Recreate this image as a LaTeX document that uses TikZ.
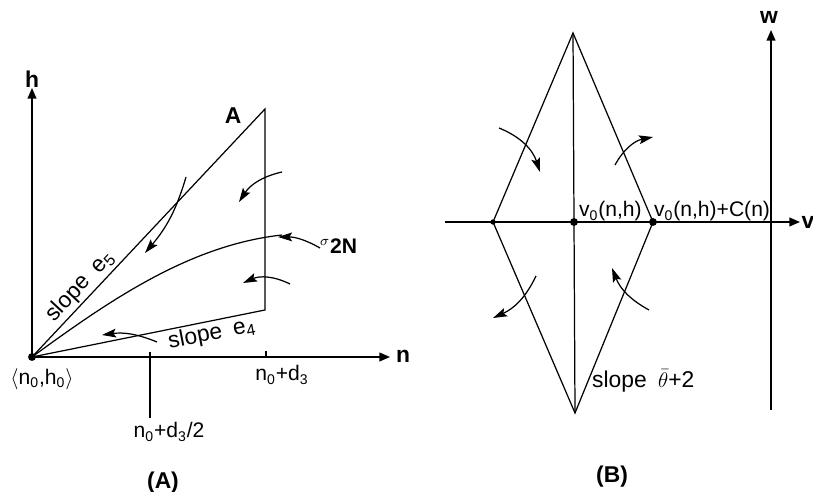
\documentclass[tikz,border=0pt]{standalone}
\usepackage{fontspec}
\setmainfont{Liberation Sans}
\usetikzlibrary{arrows.meta}

\begin{document}
\begin{tikzpicture}[x=0.02cm, y=-0.02cm,
    axis/.style={line width=0.8pt, -{Triangle[length=6pt,width=5pt]}},
    edge/.style={line width=0.7pt},
    flow/.style={line width=0.7pt, -{Stealth[length=8pt,width=5pt,inset=1.5pt]}},
    lbl/.style={font=\fontsize{12}{14}\selectfont, inner sep=1pt},
    boldlbl/.style={font=\fontsize{13}{15}\selectfont\bfseries, inner sep=1pt},
    slopelbl/.style={font=\fontsize{13}{15}\selectfont, inner sep=1pt},
    dot/.style={circle, fill=black, inner sep=0pt, minimum size=4.5pt},
    smalldot/.style={circle, fill=black, inner sep=0pt, minimum size=3pt}
]
\useasboundingbox (0,0) rectangle (813,492);

\coordinate (htop)  at (32,88);
\coordinate (nend)  at (390,357);
\coordinate (A)     at (265,109);
\coordinate (Abot)  at (265,310);
\coordinate (sig)   at (282,235);
\coordinate (halft) at (150,352);
\coordinate (halfb) at (150,418);
\coordinate (fullt) at (266,351);
\coordinate (fullb) at (266,357);
\node[dot] (O) at (32,357) {};

\draw[axis] (O.center) -- (htop);
\draw[axis] (O.center) -- (nend);
\draw[edge] (O.center) -- (A) -- (Abot) -- (O.center);
\draw[edge] (O.center) .. controls (110,300) and (190,245) .. (sig);
\draw[edge] (halft) -- (halfb);
\draw[edge] (fullt) -- (fullb);

\node[boldlbl] (hlbl) at (32,79) {h};
\node[boldlbl] (nlbl) at (403,356) {n};
\node[boldlbl] (Albl) at (233,116) {A};
\node[slopelbl, rotate=47] (e5lbl) at (80,286) {slope\enspace e\textsubscript{5}};
\node[slopelbl, rotate=11] (e4lbl) at (212,334) {slope\enspace e\textsubscript{4}};
\node[lbl, anchor=west] (siglbl) at (318,246) {$^{\sigma}$\textbf{2N}};
\node[lbl] (olbl) at (42,379) {$\langle$n\textsubscript{0},h\textsubscript{0}$\rangle$};
\node[lbl] (dlbl) at (282,375) {n\textsubscript{0}+d\textsubscript{3}};
\node[lbl] (hdlbl) at (169,432) {n\textsubscript{0}+d\textsubscript{3}/2};
\node[boldlbl] (Acap) at (163,483) {(A)};

\coordinate (a1s) at (186,177); \coordinate (a1e) at (145,253);
\coordinate (a2s) at (282,172); \coordinate (a2e) at (239,202);
\coordinate (a3s) at (320,248); \coordinate (a3e) at (278,237);
\coordinate (a4s) at (290,284); \coordinate (a4e) at (243,283);
\coordinate (a5s) at (157,342); \coordinate (a5e) at (102,335);
\draw[flow] (a1s) to[bend left=12] (a1e);
\draw[flow] (a2s) to[bend right=22] (a2e);
\draw[flow] (a3s) to[bend right=15] (a3e);
\draw[flow] (a4s) to[bend right=25] (a4e);
\draw[flow] (a5s) to[bend right=15] (a5e);

\coordinate (T) at (573,33);
\coordinate (Bt) at (575,413);
\coordinate (vstart) at (445,222);
\coordinate (vend) at (800,222);
\coordinate (wbot) at (771,410);
\coordinate (wtop) at (771,30);
\node[smalldot] (L) at (493,222) {};
\node[dot] (C) at (574,222) {};
\node[dot] (R) at (653,222) {};

\draw[axis] (vstart) -- (vend);
\draw[axis] (wbot) -- (wtop);
\draw[edge] (T) -- (L.center) -- (Bt) -- (R.center) -- cycle;
\draw[edge] (T) -- (C.center) -- (Bt);

\node[boldlbl] (wlbl) at (769,17) {w};
\node[boldlbl] (vlbl) at (808,222) {v};
\node[lbl, anchor=base west] (c0lbl) at (577,217) {v\textsubscript{0}(n,h)};
\node[lbl, anchor=base west] (c1lbl) at (652,217) {v\textsubscript{0}(n,h)+C(n)};
\node[slopelbl, anchor=base west] (thlbl) at (590,387) {slope\enspace$\bar{\theta}$+2};
\node[boldlbl] (Bcap) at (612,477) {(B)};

\coordinate (b1s) at (499,128); \coordinate (b1e) at (540,172);
\coordinate (b2s) at (615,165); \coordinate (b2e) at (653,137);
\coordinate (b3s) at (536,276); \coordinate (b3e) at (493,318);
\coordinate (b4s) at (649,310); \coordinate (b4e) at (612,268);
\draw[flow] (b1s) to[bend left=25] (b1e);
\draw[flow] (b2s) to[bend left=25] (b2e);
\draw[flow] (b3s) to[bend left=20] (b3e);
\draw[flow] (b4s) to[bend left=20] (b4e);
\end{tikzpicture}
\end{document}
